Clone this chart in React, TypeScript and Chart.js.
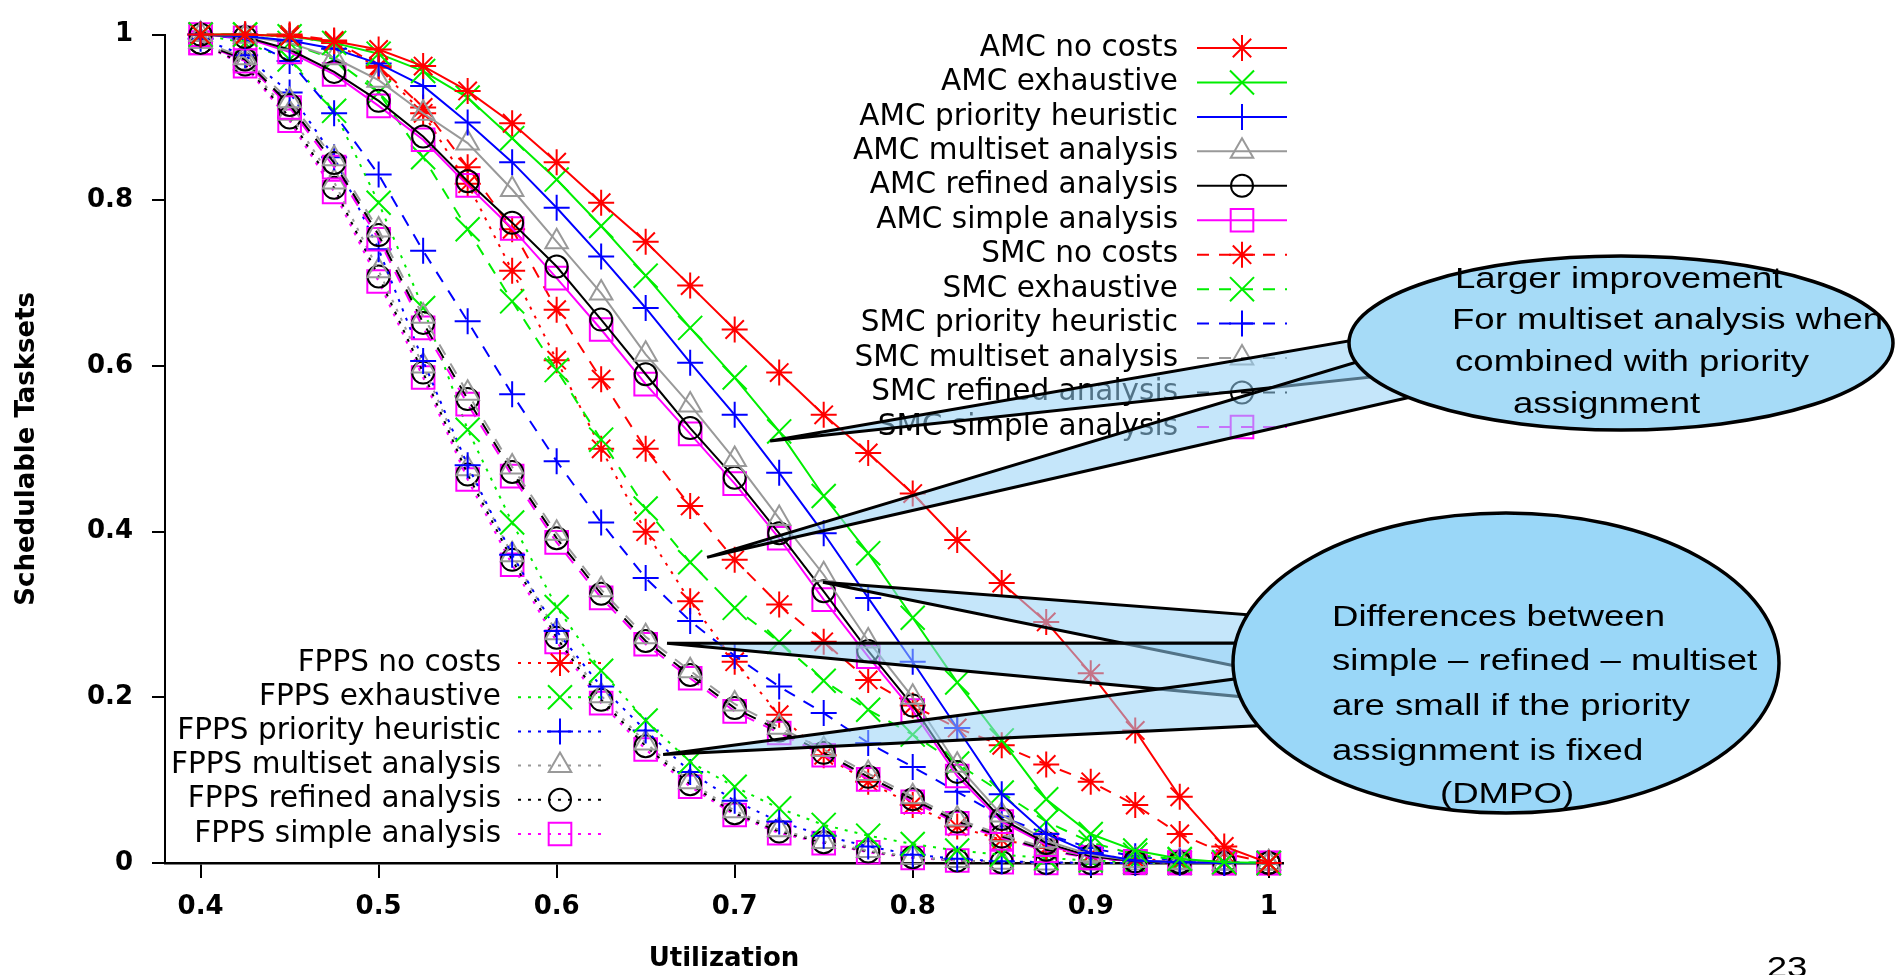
import React, { useEffect, useRef } from 'react';
import { Chart, registerables } from 'chart.js';
import { drawPoint } from 'chart.js/helpers';

Chart.register(...registerables);

// ---------------- data ----------------
const utilization = [0.4, 0.425, 0.45, 0.475, 0.5, 0.525, 0.55, 0.575, 0.6, 0.625, 0.65, 0.675, 0.7, 0.725, 0.75, 0.775, 0.8, 0.825, 0.85, 0.875, 0.9, 0.925, 0.95, 0.975, 1.0];

const amcNoCosts = [1.0, 1.0, 0.998, 0.992, 0.982, 0.962, 0.932, 0.893, 0.846, 0.797, 0.75, 0.697, 0.644, 0.592, 0.541, 0.495, 0.446, 0.39, 0.338, 0.291, 0.229, 0.16, 0.08, 0.02, 0.0];
const amcExhaustive = [1.0, 1.0, 0.998, 0.99, 0.977, 0.956, 0.924, 0.875, 0.825, 0.769, 0.709, 0.646, 0.586, 0.521, 0.443, 0.374, 0.296, 0.218, 0.148, 0.077, 0.035, 0.015, 0.005, 0.001, 0.0];
const amcPriority = [1.0, 0.998, 0.993, 0.983, 0.965, 0.938, 0.894, 0.846, 0.791, 0.732, 0.67, 0.604, 0.541, 0.471, 0.398, 0.32, 0.243, 0.163, 0.083, 0.035, 0.012, 0.003, 0.001, 0, 0];
const amcMultiset = [1.0, 0.998, 0.99, 0.972, 0.945, 0.905, 0.869, 0.813, 0.75, 0.688, 0.614, 0.553, 0.487, 0.416, 0.348, 0.268, 0.2, 0.118, 0.058, 0.027, 0.01, 0.003, 0.001, 0, 0];
const amcRefined = [1.0, 0.997, 0.982, 0.955, 0.92, 0.877, 0.823, 0.773, 0.72, 0.656, 0.59, 0.525, 0.465, 0.398, 0.328, 0.256, 0.19, 0.11, 0.053, 0.024, 0.008, 0.002, 0, 0, 0];
const amcSimple = [1.0, 0.996, 0.979, 0.952, 0.914, 0.873, 0.818, 0.766, 0.706, 0.644, 0.578, 0.518, 0.458, 0.392, 0.318, 0.249, 0.184, 0.105, 0.05, 0.022, 0.007, 0.002, 0, 0, 0];

const smcNoCosts = [1.0, 1.0, 1.0, 0.993, 0.962, 0.912, 0.84, 0.765, 0.668, 0.584, 0.5, 0.431, 0.366, 0.312, 0.267, 0.221, 0.19, 0.163, 0.142, 0.119, 0.098, 0.07, 0.035, 0.012, 0.0];
const smcExhaustive = [1.0, 1.0, 0.99, 0.97, 0.93, 0.852, 0.765, 0.678, 0.595, 0.511, 0.428, 0.363, 0.308, 0.267, 0.22, 0.185, 0.155, 0.12, 0.085, 0.05, 0.025, 0.01, 0.004, 0.001, 0];
const smcPriority = [1.0, 0.995, 0.968, 0.905, 0.831, 0.739, 0.654, 0.566, 0.485, 0.411, 0.344, 0.292, 0.25, 0.213, 0.181, 0.145, 0.116, 0.086, 0.056, 0.035, 0.018, 0.008, 0.003, 0.001, 0];
const smcMultiset = [0.992, 0.972, 0.92, 0.85, 0.764, 0.66, 0.567, 0.478, 0.398, 0.33, 0.273, 0.232, 0.192, 0.164, 0.137, 0.108, 0.08, 0.053, 0.034, 0.018, 0.008, 0.003, 0.001, 0, 0];
const smcRefined = [0.99, 0.97, 0.915, 0.845, 0.758, 0.652, 0.56, 0.472, 0.392, 0.325, 0.268, 0.227, 0.187, 0.16, 0.133, 0.104, 0.077, 0.05, 0.032, 0.016, 0.007, 0.002, 0.001, 0, 0];
const smcSimple = [0.99, 0.968, 0.912, 0.84, 0.753, 0.646, 0.554, 0.467, 0.387, 0.32, 0.264, 0.223, 0.183, 0.157, 0.13, 0.101, 0.074, 0.048, 0.03, 0.015, 0.006, 0.002, 0.001, 0, 0];

const fppsNoCosts = [1.0, 1.0, 0.998, 0.99, 0.96, 0.905, 0.82, 0.715, 0.607, 0.5, 0.4, 0.316, 0.243, 0.179, 0.13, 0.098, 0.07, 0.044, 0.028, 0.018, 0.01, 0.005, 0.002, 0, 0];
const fppsExhaustive = [1.0, 0.99, 0.97, 0.908, 0.797, 0.67, 0.523, 0.411, 0.309, 0.232, 0.172, 0.122, 0.092, 0.066, 0.046, 0.033, 0.023, 0.015, 0.01, 0.006, 0.003, 0.001, 0, 0, 0];
const fppsPriority = [0.995, 0.975, 0.93, 0.852, 0.741, 0.606, 0.48, 0.372, 0.28, 0.213, 0.16, 0.11, 0.075, 0.05, 0.033, 0.02, 0.01, 0.005, 0.002, 0.001, 0, 0, 0, 0, 0];
const fppsMultiset = [0.992, 0.966, 0.905, 0.822, 0.715, 0.6, 0.476, 0.372, 0.278, 0.202, 0.145, 0.098, 0.063, 0.04, 0.026, 0.015, 0.007, 0.003, 0.001, 0, 0, 0, 0, 0, 0];
const fppsRefined = [0.99, 0.964, 0.9, 0.815, 0.708, 0.592, 0.469, 0.366, 0.272, 0.197, 0.141, 0.095, 0.06, 0.038, 0.025, 0.014, 0.007, 0.003, 0.001, 0, 0, 0, 0, 0, 0];
const fppsSimple = [0.99, 0.962, 0.896, 0.81, 0.702, 0.586, 0.463, 0.36, 0.267, 0.193, 0.137, 0.092, 0.058, 0.036, 0.024, 0.013, 0.006, 0.003, 0.001, 0, 0, 0, 0, 0, 0];

const xTickValues = [0.4, 0.5, 0.6, 0.7, 0.8, 0.9, 1];
const yTickValues = [0, 0.2, 0.4, 0.6, 0.8, 1];

const xTitle = 'Utilization';
const yTitle = 'Schedulable Tasksets';

// ---------------- styles ----------------
const RED = '#ff0000';
const GREEN = '#00ee00';
const BLUE = '#0000ff';
const GREY = '#999999';
const BLACK = '#000000';
const MAGENTA = '#ff00ff';

const SOLID: number[] = [];
const DASHED = [12, 10];
const DOTTED = [3, 7];

type Marker = { style: string; radius: number; color: string };
const mNoCosts: Marker = { style: 'star', radius: 13, color: RED };
const mExhaustive: Marker = { style: 'crossRot', radius: 17, color: GREEN };
const mPriority: Marker = { style: 'cross', radius: 13, color: BLUE };
const mMultiset: Marker = { style: 'triangle', radius: 13, color: GREY };
const mRefined: Marker = { style: 'circle', radius: 11, color: BLACK };
const mSimple: Marker = { style: 'rect', radius: 16, color: MAGENTA };

type Series = { label: string; data: number[]; marker: Marker; dash: number[]; legend: 'top' | 'bottom' };

const series: Series[] = [
  { label: 'AMC no costs', data: amcNoCosts, marker: mNoCosts, dash: SOLID, legend: 'top' },
  { label: 'AMC exhaustive', data: amcExhaustive, marker: mExhaustive, dash: SOLID, legend: 'top' },
  { label: 'AMC priority heuristic', data: amcPriority, marker: mPriority, dash: SOLID, legend: 'top' },
  { label: 'AMC multiset analysis', data: amcMultiset, marker: mMultiset, dash: SOLID, legend: 'top' },
  { label: 'AMC refined analysis', data: amcRefined, marker: mRefined, dash: SOLID, legend: 'top' },
  { label: 'AMC simple analysis', data: amcSimple, marker: mSimple, dash: SOLID, legend: 'top' },
  { label: 'SMC no costs', data: smcNoCosts, marker: mNoCosts, dash: DASHED, legend: 'top' },
  { label: 'SMC exhaustive', data: smcExhaustive, marker: mExhaustive, dash: DASHED, legend: 'top' },
  { label: 'SMC priority heuristic', data: smcPriority, marker: mPriority, dash: DASHED, legend: 'top' },
  { label: 'SMC multiset analysis', data: smcMultiset, marker: mMultiset, dash: DASHED, legend: 'top' },
  { label: 'SMC refined analysis', data: smcRefined, marker: mRefined, dash: DASHED, legend: 'top' },
  { label: 'SMC simple analysis', data: smcSimple, marker: mSimple, dash: DASHED, legend: 'top' },
  { label: 'FPPS no costs', data: fppsNoCosts, marker: mNoCosts, dash: DOTTED, legend: 'bottom' },
  { label: 'FPPS exhaustive', data: fppsExhaustive, marker: mExhaustive, dash: DOTTED, legend: 'bottom' },
  { label: 'FPPS priority heuristic', data: fppsPriority, marker: mPriority, dash: DOTTED, legend: 'bottom' },
  { label: 'FPPS multiset analysis', data: fppsMultiset, marker: mMultiset, dash: DOTTED, legend: 'bottom' },
  { label: 'FPPS refined analysis', data: fppsRefined, marker: mRefined, dash: DOTTED, legend: 'bottom' },
  { label: 'FPPS simple analysis', data: fppsSimple, marker: mSimple, dash: DOTTED, legend: 'bottom' },
];

const LEGEND_FONT = '29.5px "DejaVu Sans"';
const legendLayout = {
  top: { textRight: 1178, lineX1: 1197, lineX2: 1287, markerX: 1242, y0: 48, dy: 34.45 },
  bottom: { textRight: 501, lineX1: 518, lineX2: 603, markerX: 560, y0: 663, dy: 34.2 },
};

const CALLOUT_FONT = '30px "Liberation Sans", Arial, sans-serif';
const CALLOUT_STRETCH = 1.22;

type Callout = {
  cx: number; cy: number; rx: number; ry: number; fill: string;
  pointers: { tip: [number, number]; base: [number, number][] }[];
  lines: { text: string; x: number; y: number }[];
};

const callouts: Callout[] = [
  {
    cx: 1621, cy: 343, rx: 272, ry: 87, fill: '#a6dbf7',
    pointers: [
      { tip: [0.7199, 0.5095], base: [[1354, 340], [1400, 374]] },
      { tip: [0.6845, 0.369], base: [[1390, 352], [1424, 394]] },
    ],
    lines: [
      { text: 'Larger improvement', x: 1455, y: 280 },
      { text: 'For multiset analysis when', x: 1452, y: 321 },
      { text: 'combined with priority', x: 1455, y: 363 },
      { text: 'assignment', x: 1513, y: 405 },
    ],
  },
  {
    cx: 1506, cy: 663, rx: 273, ry: 150, fill: '#9ad7f8',
    pointers: [
      { tip: [0.7496, 0.339], base: [[1265, 616], [1250, 669]] },
      { tip: [0.662, 0.2653], base: [[1250, 643], [1245, 697]] },
      { tip: [0.6598, 0.1309], base: [[1250, 677], [1272, 725]] },
    ],
    lines: [
      { text: 'Differences between', x: 1332, y: 618 },
      { text: 'simple – refined – multiset', x: 1332, y: 662 },
      { text: 'are small if the priority', x: 1332, y: 707 },
      { text: 'assignment is fixed', x: 1332, y: 752 },
      { text: '(DMPO)', x: 1440, y: 795 },
    ],
  },
];

function stretchedText(ctx: CanvasRenderingContext2D, text: string, x: number, y: number, sx: number) {
  ctx.save();
  ctx.translate(x, y);
  ctx.scale(sx, 1);
  ctx.fillText(text, 0, 0);
  ctx.restore();
}

const legendPlugin = {
  id: 'gnuplotLegend',
  afterDatasetsDraw(chart: any) {
    const ctx: CanvasRenderingContext2D = chart.ctx;
    const counters: Record<string, number> = { top: 0, bottom: 0 };
    ctx.save();
    series.forEach((s) => {
      const L = legendLayout[s.legend];
      const y = L.y0 + L.dy * counters[s.legend]++;
      ctx.font = LEGEND_FONT;
      ctx.fillStyle = '#000';
      ctx.textAlign = 'right';
      ctx.textBaseline = 'middle';
      ctx.fillText(s.label, L.textRight, y);
      ctx.strokeStyle = s.marker.color;
      ctx.lineWidth = 2;
      ctx.setLineDash(s.dash);
      ctx.beginPath();
      ctx.moveTo(L.lineX1, y);
      ctx.lineTo(L.lineX2, y);
      ctx.stroke();
      ctx.setLineDash([]);
      ctx.fillStyle = 'rgba(0,0,0,0)';
      drawPoint(ctx, { pointStyle: s.marker.style as any, radius: s.marker.radius, rotation: 0, borderWidth: 2 }, L.markerX, y);
    });
    ctx.restore();
  },
};

const calloutPlugin = {
  id: 'callouts',
  afterDraw(chart: any) {
    const ctx: CanvasRenderingContext2D = chart.ctx;
    const xs = chart.scales.x;
    const ys = chart.scales.y;
    ctx.save();
    callouts.forEach((c) => {
      c.pointers.forEach((p) => {
        const tx = xs.getPixelForValue(p.tip[0]);
        const ty = ys.getPixelForValue(p.tip[1]);
        ctx.beginPath();
        ctx.moveTo(tx, ty);
        ctx.lineTo(p.base[0][0], p.base[0][1]);
        ctx.lineTo(p.base[1][0], p.base[1][1]);
        ctx.closePath();
        ctx.fillStyle = 'rgba(150,210,245,0.55)';
        ctx.fill();
        ctx.lineWidth = 3;
        ctx.lineJoin = 'miter';
        ctx.strokeStyle = '#000';
        ctx.stroke();
      });
      ctx.beginPath();
      ctx.ellipse(c.cx, c.cy, c.rx, c.ry, 0, 0, Math.PI * 2);
      ctx.fillStyle = c.fill;
      ctx.fill();
      ctx.lineWidth = 3.5;
      ctx.strokeStyle = '#000';
      ctx.stroke();
      ctx.font = CALLOUT_FONT;
      ctx.fillStyle = '#000';
      ctx.textAlign = 'left';
      ctx.textBaseline = 'middle';
      c.lines.forEach((l) => stretchedText(ctx, l.text, l.x, l.y, CALLOUT_STRETCH));
    });
    // slide page number
    ctx.font = CALLOUT_FONT;
    ctx.fillStyle = '#000';
    ctx.textAlign = 'center';
    ctx.textBaseline = 'alphabetic';
    stretchedText(ctx, '23', 1787, 977, CALLOUT_STRETCH);
    ctx.restore();
  },
};

export default function App() {
  const canvasRef = useRef<HTMLCanvasElement | null>(null);

  useEffect(() => {
    if (!canvasRef.current) return;
    const tickFont = { family: 'DejaVu Sans', size: 26, weight: 'bold' as const };
    const titleFont = { family: 'DejaVu Sans', size: 26, weight: 'bold' as const };
    const chart = new Chart(canvasRef.current, {
      type: 'line',
      data: {
        datasets: series.map((s) => ({
          label: s.label,
          data: utilization.map((u, i) => ({ x: u, y: s.data[i] })),
          borderColor: s.marker.color,
          backgroundColor: 'rgba(0,0,0,0)',
          borderWidth: 2,
          borderDash: s.dash,
          pointStyle: s.marker.style as any,
          pointRadius: s.marker.radius,
          pointHoverRadius: s.marker.radius,
          pointBorderWidth: 2,
          pointBorderColor: s.marker.color,
          pointBackgroundColor: 'rgba(0,0,0,0)',
          fill: false,
          tension: 0,
          clip: false as any,
        })),
      },
      options: {
        responsive: false,
        animation: false,
        events: [],
        layout: { padding: { left: 0, top: 23, right: 620, bottom: 0 } },
        plugins: { legend: { display: false }, tooltip: { enabled: false } },
        scales: {
          x: {
            type: 'linear',
            min: 0.38,
            max: 1.008,
            afterBuildTicks: (s: any) => { s.ticks = xTickValues.map((v) => ({ value: v })); },
            afterFit: (s: any) => { s.height = 112; },
            grid: { drawOnChartArea: false, drawTicks: true, tickLength: 15, color: '#000', lineWidth: 2 },
            border: { display: true, color: '#000', width: 2.5 },
            ticks: { padding: 14, color: '#000', font: tickFont, maxRotation: 0, autoSkip: false, callback: (v: any) => String(v) },
            title: { display: true, text: xTitle, color: '#000', font: titleFont, padding: { top: 0, bottom: 0 } },
          },
          y: {
            type: 'linear',
            min: 0,
            max: 1,
            afterBuildTicks: (s: any) => { s.ticks = yTickValues.map((v) => ({ value: v })); },
            afterFit: (s: any) => { s.width = 165; },
            grid: { drawOnChartArea: false, drawTicks: true, tickLength: 13, color: '#000', lineWidth: 2 },
            border: { display: true, color: '#000', width: 2 },
            ticks: { padding: 19, color: '#000', font: tickFont, callback: (v: any) => String(v) },
            title: { display: true, text: yTitle, color: '#000', font: titleFont, padding: { top: 12, bottom: 0 } },
          },
        },
      },
      plugins: [legendPlugin, calloutPlugin],
    });
    return () => chart.destroy();
  }, []);

  return (
    <div style={{ position: 'absolute', left: 0, top: 0, width: 1903, height: 975, background: '#fff' }}>
      <canvas ref={canvasRef} width={1903} height={975} style={{ display: 'block' }} />
    </div>
  );
}
